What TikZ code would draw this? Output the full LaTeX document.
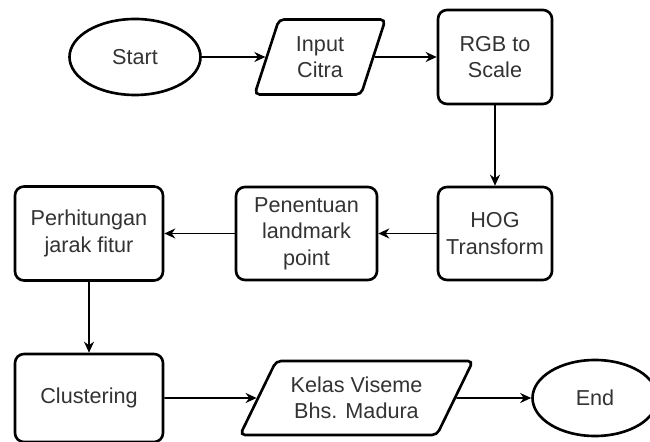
\documentclass[tikz,border=0pt]{standalone}
\usepackage{fontspec}
\setmainfont{Liberation Sans}
\usetikzlibrary{shapes.geometric,arrows.meta}
\tikzset{
terminal/.style={draw=black, ellipse, line width=1.5pt, fill=white, minimum width=2.62cm, minimum height=1.52cm, inner sep=0pt},
process/.style={draw=black, rectangle, rounded corners=0.18cm, line width=1.5pt, fill=white, align=center, inner sep=0pt},
data/.style={draw=black, trapezium, trapezium stretches=true, rounded corners=0.1cm, line width=1.5pt, fill=white, align=center, inner sep=0pt},
flow/.style={draw=black, line width=1pt, ->}
}
\begin{document}
\begin{tikzpicture}[>={Stealth[length=2.2mm,width=2mm]}, font=\fontsize{12.3}{15}\selectfont, text=black!80]
\useasboundingbox (0,0) rectangle (13,8.84);
\draw (2.70,7.70) node[terminal](S){Start}
(6.40,7.70) node[data, minimum width=2.62cm, minimum height=1.5cm, trapezium left angle=71, trapezium right angle=109](IC){Input\\Citra}
(9.90,7.70) node[process, minimum width=2.28cm, minimum height=1.88cm](RGB){RGB to\\Scale};
\draw (9.90,4.17) node[process, minimum width=2.28cm, minimum height=1.86cm](HOG){HOG\\Transform}
(6.13,4.17) node[process, minimum width=2.82cm, minimum height=1.86cm](PL){Penentuan\\landmark\\point}
(1.78,4.17) node[process, minimum width=2.96cm, minimum height=1.88cm](PJ){Perhitungan\\jarak fitur};
\draw (1.78,0.88) node[process, minimum width=2.96cm, minimum height=1.76cm](CL){Clustering}
(7.13,0.88) node[data, minimum width=4.66cm, minimum height=1.48cm, trapezium left angle=55, trapezium right angle=125](KV){Kelas Viseme\\Bhs. Madura}
(11.90,0.88) node[terminal, minimum width=2.5cm, minimum height=1.52cm](E){End};
\draw [flow] (S)--(IC);
\draw [flow] (IC)--(RGB);
\draw [flow] (RGB)--(HOG);
\draw [flow] (HOG)--(PL);
\draw [flow] (PL)--(PJ);
\draw [flow] (PJ)--(CL);
\draw [flow] (CL)--(KV);
\draw [flow] (KV)--(E);
\end{tikzpicture}
\end{document}
